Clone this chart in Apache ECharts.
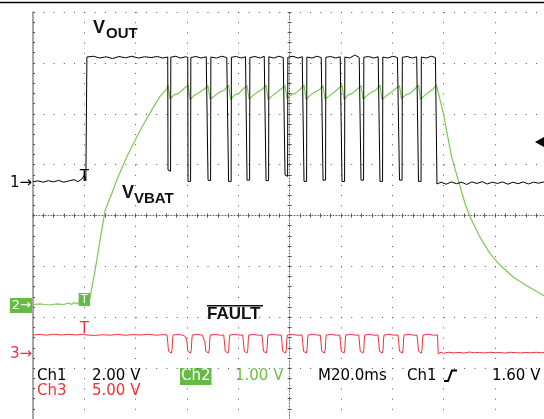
<!DOCTYPE html>
<html><head><meta charset="utf-8">
<script src="https://cdn.jsdelivr.net/npm/echarts@6/dist/echarts.min.js"></script>
<style>html,body{margin:0;padding:0;background:#fff}#c{width:544px;height:419px}</style>
</head><body><div id="c"></div>
<script>
// time in ms relative to screen centre, values in volts
const vout = [[-100,0.04],[-98,0.07],[-96,0.02],[-94,0.08],[-92,0.03],[-90,0.09],[-88,0.02],[-86,0.07],[-84,0.12],[-82.5,0.04],[-81,0.14],[-80,0.3],[-79.4,0.08],[-79.1,0.06],
[-79.0,4.94],[-76.5,4.97],[-74,4.9],[-71.5,4.95],[-69,4.88],[-66.5,4.96],[-64,4.91],[-61.5,4.97],[-59,4.9],[-56.5,4.95],[-54,4.92],[-51.5,4.96],[-49.5,4.9],[-47.5,4.94],
[-47.4,0.5],[-46.4,0.45],[-46.3,4.93],[-44.5,4.97],[-42.5,4.9],[-40.5,4.95],[-39.7,4.93],
[-39.6,0.05],[-38.6,0.05],[-38.5,4.92],[-36.5,4.96],[-34.5,4.9],[-32.5,4.95],[-31.9,4.93],
[-31.8,0.1],[-30.8,0.08],[-30.7,4.94],[-28.5,4.9],[-26.5,4.97],[-24.5,4.92],[-23.9,4.94],
[-23.8,0.05],[-22.8,0.05],[-22.7,4.93],[-20.8,4.96],[-18.8,4.9],[-17.2,4.95],[-16.7,4.93],
[-16.6,0.1],[-15.6,0.1],[-15.5,4.92],[-13.5,4.96],[-11.5,4.9],[-9.9,4.97],[-9.3,4.94],
[-9.2,0.08],[-8.2,0.08],[-8.1,4.95],[-6.2,4.9],[-4.2,4.97],[-2.5,4.92],[-1.9,4.94],
[-1.8,0.3],[-0.8,0.25],[-0.7,4.93],[1.3,4.97],[3.2,4.9],[4.9,4.95],[5.5,4.93],
[5.6,0.05],[6.6,0.05],[6.7,4.94],[8.7,4.9],[10.6,4.97],[12.3,4.92],[12.9,4.94],
[13.0,0.1],[14.0,0.1],[14.1,4.93],[16,4.96],[18,4.9],[19.7,4.95],[20.3,4.93],
[20.4,0.05],[21.4,0.05],[21.5,4.94],[23.4,4.9],[25.4,5.02],[27.1,4.92],[27.7,4.94],
[27.8,0.1],[28.8,0.1],[28.9,4.93],[30.8,4.96],[32.8,4.9],[34.5,4.95],[35.1,4.93],
[35.2,0.05],[36.2,0.05],[36.3,4.94],[38.2,4.9],[40.2,4.97],[42,4.92],[42.7,4.94],
[42.8,0.1],[43.8,0.1],[43.9,4.93],[45.8,4.96],[47.8,4.9],[49.5,4.95],[50.1,4.93],
[50.2,0.05],[51.2,0.05],[51.3,4.94],[53.2,4.9],[55.2,4.97],[56.8,4.92],[57.3,4.94],
[57.4,-0.05],[59,0.02],[61,-0.06],[63,0.03],[65,-0.04],[67,0.02],[69,-0.07],[71,0.03],[73,-0.03],[75,0.04],[77,-0.05],[79,0.02],[81,-0.03],[83,0.03],[85,-0.06],[87,0.02],[89,-0.04],[91,0.03],[93,-0.05],[95,0.02],[97,-0.02],[99.1,0.03]];

const vbat = [[-100,0.02],[-97,0.03],[-94,0.01],[-91,0.03],[-88,0.02],[-86,0.05],[-85,0.02],[-84,0.06],[-83,0.03],[-82,0.07],[-81,0.02],[-80,0.05],[-78.2,0.04],
[-75.8,0.69],[-73.9,1.28],[-71.9,1.87],[-69.3,2.2],[-67.4,2.46],[-63.5,2.92],[-58.3,3.44],[-53.1,3.9],[-50.5,4.11],[-47.9,4.26],[-47.4,4.33],
[-46.6,4.06],[-45,4.14],[-43.2,4.17],[-41.5,4.25],[-39.6,4.33],
[-38.8,4.05],[-37.2,4.13],[-35.4,4.18],[-33.6,4.24],[-31.8,4.32],
[-31.0,4.06],[-29.3,4.12],[-27.5,4.19],[-25.6,4.23],[-23.8,4.33],
[-23.0,4.05],[-21.4,4.14],[-19.8,4.17],[-18.2,4.25],[-16.6,4.32],
[-15.8,4.06],[-14.2,4.13],[-12.6,4.19],[-10.9,4.24],[-9.2,4.33],
[-8.4,4.05],[-6.8,4.12],[-5.2,4.18],[-3.5,4.25],[-1.8,4.32],
[-1.0,4.06],[0.6,4.14],[2.2,4.17],[3.9,4.24],[5.6,4.33],
[6.4,4.05],[8.0,4.13],[9.6,4.19],[11.3,4.23],[13.0,4.32],
[13.8,4.06],[15.4,4.12],[17.0,4.18],[18.7,4.25],[20.4,4.33],
[21.2,4.05],[22.8,4.14],[24.4,4.17],[26.1,4.24],[27.8,4.32],
[28.6,4.06],[30.2,4.13],[31.8,4.19],[33.5,4.23],[35.2,4.33],
[36.0,4.05],[37.6,4.12],[39.3,4.18],[41.0,4.25],[42.8,4.32],
[43.6,4.06],[45.2,4.14],[46.9,4.17],[48.5,4.24],[50.2,4.33],
[51.0,4.05],[52.6,4.13],[54.2,4.19],[55.8,4.25],[57.2,4.33],
[59.9,3.77],[63.1,2.92],[65.7,2.46],[68.3,2.01],[70.3,1.74],[74.2,1.34],[78.1,1.02],[82.0,0.79],[87.1,0.56],[92.4,0.39],[98.8,0.2],[99.1,0.19]];

const fault = [[-100,1.9],[-97,1.95],[-95,1.88],[-92,1.97],[-89,1.9],[-86,1.96],[-83,1.9],[-80.5,1.98],[-79,1.9],[-76,1.85],[-73,1.92],[-70,1.88],[-67,1.95],[-64,1.87],[-61,1.93],[-58,1.9],[-55,1.96],[-52,1.88],[-49,1.93],
[-47.8,1.9],[-47.5,1.2],[-47.2,0.3],[-46.1,0.12],[-45.8,0.5],[-45.6,1.5],[-45.4,1.9],[-43.5,1.95],[-41.5,1.87],[-40.5,1.7],
[-40.3,1.6],[-40.0,1.2],[-39.7,0.3],[-38.6,0.12],[-38.3,0.5],[-38.1,1.5],[-37.9,1.9],[-36,1.96],[-34,1.88],
[-33.3,1.9],[-33.0,1.2],[-32.7,0.3],[-31.6,0.12],[-31.3,0.5],[-31.1,1.5],[-30.9,1.9],[-29,1.95],[-27,1.87],
[-25.7,1.9],[-25.4,1.2],[-25.1,0.3],[-24.0,0.12],[-23.7,0.5],[-23.5,1.5],[-23.3,1.9],[-21.4,1.96],[-19.4,1.88],
[-18.3,1.9],[-18.0,1.2],[-17.7,0.3],[-16.6,0.12],[-16.3,0.5],[-16.1,1.5],[-15.9,1.9],[-14,1.95],[-12,1.87],
[-10.8,1.9],[-10.5,1.2],[-10.2,0.3],[-9.1,0.12],[-8.8,0.5],[-8.6,1.5],[-8.4,1.9],[-6.5,1.96],[-4.5,1.88],
[-3.3,1.9],[-3.0,1.2],[-2.7,0.3],[-1.6,0.12],[-1.3,0.5],[-1.1,1.5],[-0.9,1.9],[1,1.95],[3,1.87],
[4.8,1.9],[5.1,1.2],[5.4,0.3],[6.5,0.12],[6.8,0.5],[7.0,1.5],[7.2,1.9],[9,1.96],[11,1.88],
[11.9,1.9],[12.2,1.2],[12.5,0.3],[13.6,0.12],[13.9,0.5],[14.1,1.5],[14.3,1.9],[16.2,1.95],[18.2,1.87],
[19.5,1.9],[19.8,1.2],[20.1,0.3],[21.2,0.12],[21.5,0.5],[21.7,1.5],[21.9,1.9],[23.8,1.96],[25.8,1.88],
[26.9,1.9],[27.2,1.2],[27.5,0.3],[28.6,0.12],[28.9,0.5],[29.1,1.5],[29.3,1.9],[31.2,1.95],[33.2,1.87],
[34.4,1.9],[34.7,1.2],[35.0,0.3],[36.1,0.12],[36.4,0.5],[36.6,1.5],[36.8,1.9],[38.7,1.96],[40.7,1.88],
[42.2,1.9],[42.5,1.2],[42.8,0.3],[43.9,0.12],[44.2,0.5],[44.4,1.5],[44.6,1.9],[46.5,1.95],[48.5,1.87],
[49.6,1.9],[49.9,1.2],[50.2,0.3],[51.3,0.12],[51.6,0.5],[51.8,1.5],[52.0,1.9],[54,1.96],[56,1.88],
[57.6,1.9],[57.9,0.05],[59,0.2],[60,0.1],[62,0.2],[64,0.14],[66,0.18],[68,0.12],[70,0.22],[72,0.15],[74,0.18],[76,0.13],[78,0.2],[80,0.15],[82,0.17],[84,0.12],[86,0.2],[88,0.16],[90,0.13],[92,0.19],[94,0.14],[96,0.2],[98,0.15],[99.1,0.17]];

const voltsPerDiv = [2, 1, 5];            // Ch1, Ch2, Ch3
const groundDiv = [0.645, -1.769, -2.728]; // ground marker position, divisions from centre
const chColors = ['#000000', '#7cc85a', '#f0303a'];
const chLabels = ['1→', '2→', '3→'];
const timeRange = [-100, 99.1];            // ms, 20 ms/div
const triggerTime = -80;
const triggerLevel = 1.60;
const statusRow1 = [['Ch1', 37, '#000'], ['2.00 V', 92, '#000'], ['1.00 V', 235, '#6cbf4a'], ['M20.0ms', 318, '#000'], ['Ch1', 407, '#000'], ['1.60 V', 492, '#000']];
const statusRow2 = [['Ch3', 37, '#f0303a'], ['5.00 V', 92, '#f0303a']];

const GREEN_BOX = '#66bb44';
const DOT = '#555';
const chart = echarts.init(document.getElementById('c'), null, {renderer: 'canvas'});

function chAxis(i) {
  const s = voltsPerDiv[i], g = groundDiv[i];
  const rich = {
    k: {color: '#000', fontSize: 15, fontFamily: 'DejaVu Sans'},
    g: {color: '#fff', fontSize: 13, fontFamily: 'DejaVu Sans', backgroundColor: GREEN_BOX, padding: [1, 1, 1, 2]},
    r: {color: '#f0303a', fontSize: 15, fontFamily: 'DejaVu Sans'}
  };
  const key = ['k', 'g', 'r'][i];
  return {
    type: 'value', min: (-4 - g) * s, max: (4 - g) * s, position: 'left',
    axisLine: {show: false, onZero: false}, axisTick: {show: false}, splitLine: {show: false},
    axisLabel: {show: true, customValues: [0], margin: 1, formatter: () => '{' + key + '|' + chLabels[i] + '}', rich: rich}
  };
}

const gridAxisCommon = {
  type: 'value', axisLabel: {show: false}
};
const CENTER = '#666';

const xAxes = [
  Object.assign({}, gridAxisCommon, {min: timeRange[0], max: timeRange[1], interval: 20, position: 'bottom',
    axisLine: {show: true, onZero: true, onZeroAxisIndex: 0, lineStyle: {color: CENTER, width: 1, type: [1, 2]}},
    axisTick: {show: true, length: 2, lineStyle: {color: DOT}},
    minorTick: {show: true, splitNumber: 5, length: 2, lineStyle: {color: DOT}},
    splitLine: {show: true, lineStyle: {color: DOT, width: 1, type: [1, 9.175]}}}),
  Object.assign({}, gridAxisCommon, {min: timeRange[0], max: timeRange[1], interval: 20, position: 'top',
    axisLine: {show: false, onZero: true, onZeroAxisIndex: 0},
    axisTick: {show: true, length: 2, lineStyle: {color: DOT}},
    minorTick: {show: true, splitNumber: 5, length: 2, lineStyle: {color: DOT}},
    splitLine: {show: false}})
];

const yAxes = [
  Object.assign({}, gridAxisCommon, {min: -4, max: 4, interval: 1, position: 'left',
    axisLine: {show: true, onZero: true, onZeroAxisIndex: 0, lineStyle: {color: CENTER, width: 1, type: [1, 2]}},
    axisTick: {show: true, length: 2, lineStyle: {color: DOT}},
    minorTick: {show: true, splitNumber: 5, length: 2, lineStyle: {color: DOT}},
    splitLine: {show: true, lineStyle: {color: DOT, width: 1, type: [1, 9.266]}}}),
  Object.assign({}, gridAxisCommon, {min: -4, max: 4, interval: 1, position: 'right',
    axisLine: {show: false, onZero: true, onZeroAxisIndex: 0},
    axisTick: {show: true, length: 2, lineStyle: {color: DOT}},
    minorTick: {show: true, splitNumber: 5, length: 2, lineStyle: {color: DOT}},
    splitLine: {show: false}}),
  Object.assign({}, gridAxisCommon, {min: -4, max: 4, interval: 1, position: 'left',
    axisLine: {show: true, onZero: false, lineStyle: {color: '#888', width: 1.5}},
    axisTick: {show: true, inside: true, length: 2, lineStyle: {color: DOT}},
    minorTick: {show: true, splitNumber: 5, length: 2, lineStyle: {color: DOT}},
    splitLine: {show: false}}),
  chAxis(0), chAxis(1), chAxis(2)
];

function trigT(i, y, off, boxed) {
  return {
    coord: [triggerTime, y], symbol: 'rect', symbolSize: 0.1, itemStyle: {color: 'rgba(0,0,0,0)'},
    label: boxed ? {show: true, position: 'inside', offset: [0, off], formatter: 'T', color: '#fff', fontSize: 12, fontFamily: 'DejaVu Sans', backgroundColor: GREEN_BOX, padding: [1, 2, 0, 2]}
                 : {show: true, position: 'inside', offset: [0, off], formatter: 'T', color: chColors[i], fontSize: 15, fontFamily: 'DejaVu Sans'}
  };
}

const lineSeries = (name, data, i, extraMarks) => ({
  name, type: 'line', data, xAxisIndex: 0, yAxisIndex: 3 + i, showSymbol: false, symbol: 'none',
  lineStyle: {color: chColors[i], width: i === 1 ? 1.2 : 1}, silent: true, z: 3 - i + 2,
  markPoint: {silent: true, animation: false, data: extraMarks}
});

const graphics = [
  {type: 'line', shape: {x1: 0, y1: 2.5, x2: 544, y2: 2.5}, style: {stroke: '#000', lineWidth: 1.5}},
  {type: 'text', x: 93, y: 28.5, style: {text: 'V', font: 'bold 18px "Liberation Sans"', fill: '#111', verticalAlign: 'middle'}},
  {type: 'text', x: 106, y: 33.5, style: {text: 'OUT', font: 'bold 15px "Liberation Sans"', fill: '#111', verticalAlign: 'middle'}},
  {type: 'text', x: 122, y: 193.5, style: {text: 'V', font: 'bold 18px "Liberation Sans"', fill: '#111', verticalAlign: 'middle'}},
  {type: 'text', x: 134, y: 199, style: {text: 'VBAT', font: 'bold 15px "Liberation Sans"', fill: '#111', verticalAlign: 'middle'}},
  {type: 'text', x: 207, y: 314.5, style: {text: 'FAULT', font: 'bold 17px "Liberation Sans"', fill: '#111', verticalAlign: 'middle'}},
  {type: 'line', shape: {x1: 207, y1: 305.7, x2: 263, y2: 305.7}, style: {stroke: '#111', lineWidth: 1.5}},
  {type: 'text', x: 180, y: 376.5, style: {text: 'Ch2', font: '15px "DejaVu Sans"', fill: '#fff', verticalAlign: 'middle', backgroundColor: GREEN_BOX, padding: [1, 1, 1, 1]}},
  {type: 'polyline', shape: {points: [[444, 381], [448, 381], [452, 370.5], [457, 370.5]]}, style: {stroke: '#000', lineWidth: 2, fill: null}}
];
statusRow1.forEach(([t, x, c]) => graphics.push({type: 'text', x, y: 376.5, style: {text: t, font: '15px "DejaVu Sans"', fill: c, verticalAlign: 'middle'}}));
statusRow2.forEach(([t, x, c]) => graphics.push({type: 'text', x, y: 391.5, style: {text: t, font: '15px "DejaVu Sans"', fill: c, verticalAlign: 'middle'}}));

chart.setOption({
  animation: false,
  backgroundColor: '#fff',
  grid: {left: 33, right: 0, top: 12, bottom: 0, containLabel: false},
  xAxis: xAxes,
  yAxis: yAxes,
  series: [
    lineSeries('VOUT', vout, 0, [trigT(0, 0, -6, false),
      {coord: [timeRange[1], triggerLevel], symbol: 'triangle', symbolRotate: 90, symbolSize: [10, 9], symbolOffset: [-4.5, 0], itemStyle: {color: '#000'}, label: {show: false}}]),
    lineSeries('VVBAT', vbat, 1, [trigT(1, 0, -6, true)]),
    lineSeries('FAULT', fault, 2, [trigT(2, 1.9, -6, false)])
  ],
  graphic: graphics
});
</script></body></html>
